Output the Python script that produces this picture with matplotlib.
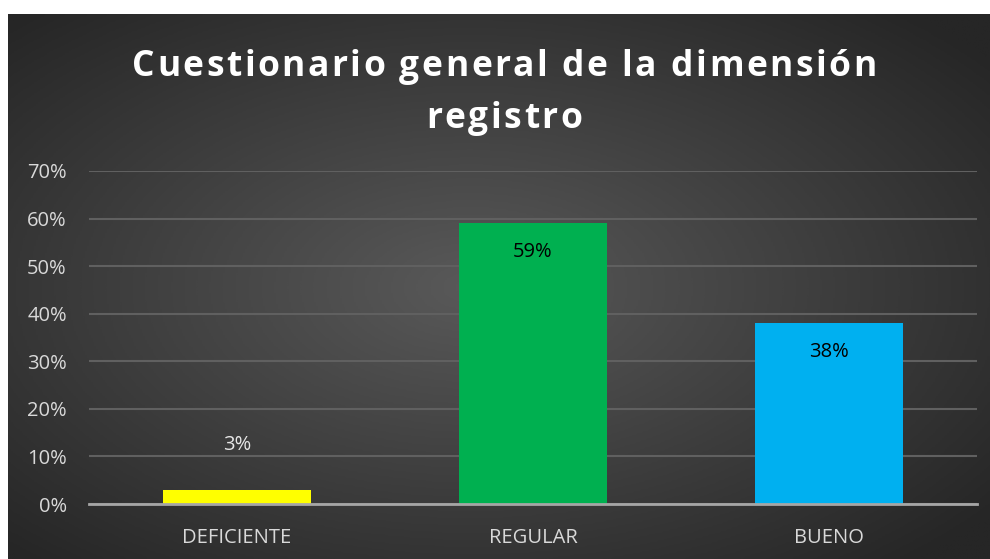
import numpy as np
import matplotlib
matplotlib.use("Agg")
import matplotlib.pyplot as plt
from matplotlib.colors import LinearSegmentedColormap
from matplotlib.font_manager import FontProperties, findfont
from matplotlib.ft2font import FT2Font

categories = ["DEFICIENTE", "REGULAR", "BUENO"]
values = [0.03, 0.59, 0.38]
labels = ["3%", "59%", "38%"]
colors = ["#FFFF00", "#00B050", "#00B0F0"]
yticks = [0, 0.1, 0.2, 0.3, 0.4, 0.5, 0.6, 0.7]
title_lines = ["Cuestionario general de la dimensión", "registro"]

W, H = 990, 559
DPI = 100
fig = plt.figure(figsize=(W / DPI, H / DPI), dpi=DPI)
fig.patch.set_facecolor("white")

# background panel with radial gradient
bx0, by1 = 8 / W, 1 - 14 / H
bg = fig.add_axes([bx0, 0, 1 - bx0, by1])
ny, nx = 300, 540
yy, xx = np.mgrid[0:ny, 0:nx]
cx, cy = nx * 0.47, ny * 0.5
r = np.sqrt(((xx - cx) / (nx * 0.5)) ** 2 + ((yy - cy) / (ny * 0.5)) ** 2)
r = np.clip(r / 1.35, 0, 1)
cmap = LinearSegmentedColormap.from_list("bg", ["#595959", "#262626"])
bg.imshow(r, cmap=cmap, aspect="auto", extent=[0, 1, 0, 1], interpolation="bilinear")
bg.set_axis_off()

# plot axes
ax_l, ax_r = 89 / W, 977 / W
ax_b, ax_t = 1 - 504 / H, 1 - 171 / H
ax = fig.add_axes([ax_l, ax_b, ax_r - ax_l, ax_t - ax_b])
ax.patch.set_alpha(0)
x = np.arange(len(categories))
ax.bar(x, values, width=0.5, color=colors, zorder=3)
ax.set_xlim(-0.5, len(categories) - 0.5)
ax.set_ylim(0, 0.7)
ax.set_yticks(yticks)
ax.set_yticklabels([f"{int(round(v * 100))}%" for v in yticks])
ax.set_xticks(x)
ax.set_xticklabels(categories)
for s in ["top", "right", "left"]:
    ax.spines[s].set_visible(False)
ax.spines["bottom"].set_color("#a6a6a6")
ax.spines["bottom"].set_linewidth(2)
ax.spines["bottom"].set_zorder(4)
ax.grid(axis="y", color="#606060", linewidth=1.5, zorder=0)
ax.tick_params(axis="both", length=0, colors="#d9d9d9", labelsize=14.5)
ax.tick_params(axis="y", pad=16)
ax.tick_params(axis="x", pad=17)
for t in ax.get_xticklabels() + ax.get_yticklabels():
    t.set_fontfamily("Open Sans")
    t.set_color("#d9d9d9")

for i, (v, lab) in enumerate(zip(values, labels)):
    if v < 0.1:
        ax.annotate(lab, (i, v), xytext=(0, 32), textcoords="offset points",
                    ha="center", va="center", color="#e6e6e6", fontsize=14.5,
                    family="Open Sans", zorder=5)
    else:
        ax.annotate(lab, (i, v), xytext=(0, -21), textcoords="offset points",
                    ha="center", va="center", color="black", fontsize=14.5,
                    family="Open Sans", zorder=5)

# letter-spaced bold title
fp = FontProperties(family="Open Sans", weight="bold", size=25.5)
font = FT2Font(findfont(fp))
font.set_size(25.5, DPI)
spacing = 2.5  # px between letters
cx_pix = W / 2 + 9
line_y = [62, 114]
for line, yc in zip(title_lines, line_y):
    adv = [font.load_char(ord(c)).linearHoriAdvance / 65536 for c in line]
    total = sum(adv) + spacing * (len(line) - 1)
    xpos = cx_pix - total / 2
    for c, a in zip(line, adv):
        if c != " ":
            fig.text((xpos + a / 2) / W, 1 - yc / H, c, ha="center", va="center_baseline",
                     color="white", fontproperties=fp)
        xpos += a + spacing

fig.savefig("out.png", dpi=DPI, facecolor=fig.get_facecolor())
